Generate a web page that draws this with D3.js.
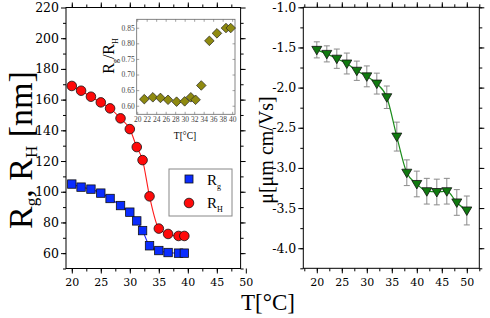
<!DOCTYPE html>
<html><head><meta charset="utf-8">
<script src="https://cdn.jsdelivr.net/npm/d3@7"></script>
<style>body{margin:0;background:#fff} svg{display:block}</style>
</head><body><svg id="c" width="490" height="318"></svg>
<script>
// ---- data ----
const tempR = [20, 21.6, 23.3, 25, 26.6, 28.4, 30, 31.2, 32.2, 33.4, 35, 36.6, 38.4, 39.4];
const rg = [105, 103, 101.7, 99.1, 95.6, 91, 86.7, 81, 74.7, 64.8, 61.7, 60.4, 60, 60];
const rh = [168.9, 165.8, 161.9, 158.2, 154.3, 147.8, 140.8, 129.1, 120.6, 97.0, 76.0, 72.5, 71.2, 71.2];
const tempRatio = [21.5, 23.3, 24.9, 26.5, 28.3, 30, 31.3, 32.3, 33.5, 35.2, 36.8, 38.7, 39.7];
const ratio = [0.621, 0.627, 0.625, 0.619, 0.613, 0.614, 0.627, 0.619, 0.665, 0.808, 0.832, 0.849, 0.849];
const tempMu = [20, 22, 24, 26, 28, 30, 32, 34, 36, 38, 40, 42, 44, 46, 48, 50];
const mu = [-1.53, -1.58, -1.64, -1.70, -1.79, -1.86, -1.95, -2.12, -2.61, -3.06, -3.20, -3.29, -3.30, -3.29, -3.43, -3.53];
const muErr = [0.10, 0.10, 0.12, 0.13, 0.12, 0.13, 0.13, 0.14, 0.18, 0.16, 0.16, 0.16, 0.16, 0.16, 0.16, 0.18];
const xTicksL = [20, 25, 30, 35, 40, 45, 50];
const yTicksL = [60, 80, 100, 120, 140, 160, 180, 200, 220];
const xTicksR = [20, 25, 30, 35, 40, 45, 50];
const yTicksR = [-4.0, -3.5, -3.0, -2.5, -2.0, -1.5, -1.0];
const xTicksIn = [20, 22, 24, 26, 28, 30, 32, 34, 36, 38, 40];
const yTicksIn = [0.60, 0.65, 0.70, 0.75, 0.80, 0.85];

const svg = d3.select('#c');
const SERIF = "'Liberation Serif', 'DejaVu Serif', serif";
const TICKF = "'DejaVu Serif', serif";

function styleAxis(g, size, fam) {
  g.select('.domain').remove();
  g.selectAll('line').attr('stroke', '#000').attr('stroke-width', 1);
  g.selectAll('text').attr('font-family', fam).attr('font-size', size).attr('fill', '#000');
}
function minor(lo, hi, step) { const a = []; for (let v = lo; v <= hi + 1e-9; v += step) a.push(+v.toFixed(4)); return a; }

function frameAxes(x, y, xt, yt, xm, ym, yfmt, xsize, ysize) {
  const [x0, x1] = x.range(), [y0, y1] = y.range();
  svg.append('g').attr('transform', `translate(0,${y0})`).call(d3.axisBottom(x).tickValues(xt).tickSize(5).tickPadding(5)).call(styleAxis, xsize, TICKF);
  svg.append('g').attr('transform', `translate(0,${y0})`).call(d3.axisBottom(x).tickValues(xm).tickSize(3).tickFormat('')).call(styleAxis, 0, TICKF);
  svg.append('g').attr('transform', `translate(0,${y1})`).call(d3.axisTop(x).tickValues(xt.filter(v => x(v) <= x1)).tickSize(5).tickFormat('')).call(styleAxis, 0, TICKF);
  svg.append('g').attr('transform', `translate(0,${y1})`).call(d3.axisTop(x).tickValues(xm).tickSize(3).tickFormat('')).call(styleAxis, 0, TICKF);
  svg.append('g').attr('transform', `translate(${x0},0)`).call(d3.axisLeft(y).tickValues(yt).tickSize(5).tickPadding(2).tickFormat(yfmt)).call(styleAxis, ysize, TICKF);
  svg.append('g').attr('transform', `translate(${x0},0)`).call(d3.axisLeft(y).tickValues(ym).tickSize(3).tickFormat('')).call(styleAxis, 0, TICKF);
  svg.append('g').attr('transform', `translate(${x1},0)`).call(d3.axisRight(y).tickValues(yt).tickSize(5).tickFormat('')).call(styleAxis, 0, TICKF);
  svg.append('g').attr('transform', `translate(${x1},0)`).call(d3.axisRight(y).tickValues(ym).tickSize(3).tickFormat('')).call(styleAxis, 0, TICKF);
  svg.append('rect').attr('x', x0).attr('y', y1).attr('width', x1 - x0).attr('height', y0 - y1)
    .attr('fill', 'none').attr('stroke', '#000').attr('stroke-width', 1);
}

// ---- left panel ----
const xL = d3.scaleLinear().domain([19, 49.1]).range([66, 240.6]);
const yL = d3.scaleLinear().domain([50, 220]).range([268.5, 7.5]);
frameAxes(xL, yL, xTicksL, yTicksL, minor(20, 47.5, 2.5), minor(50, 210, 10), d3.format('d'), 11, 12.5);

const lineL = (vals) => d3.line().x((d, i) => xL(tempR[i])).y(d => yL(d)).curve(d3.curveMonotoneX)(vals);
svg.append('path').attr('d', lineL(rg)).attr('fill', 'none').attr('stroke', '#1a1aff').attr('stroke-width', 1.1);
svg.append('path').attr('d', lineL(rh)).attr('fill', 'none').attr('stroke', '#ff1a1a').attr('stroke-width', 1.1);
svg.append('g').selectAll('rect').data(rg).join('rect')
  .attr('x', (d, i) => xL(tempR[i]) - 4.2).attr('y', d => yL(d) - 4.2).attr('width', 8.4).attr('height', 8.4)
  .attr('fill', '#0a2cff').attr('stroke', '#111').attr('stroke-width', 0.8);
svg.append('g').selectAll('circle').data(rh).join('circle')
  .attr('cx', (d, i) => xL(tempR[i])).attr('cy', d => yL(d)).attr('r', 4.8)
  .attr('fill', '#ff0a0a').attr('stroke', '#111').attr('stroke-width', 0.8);

// legend
const lg = svg.append('g');
lg.append('rect').attr('x', 169).attr('y', 169).attr('width', 63).attr('height', 47).attr('fill', '#fff').attr('stroke', '#888').attr('stroke-width', 1);
lg.append('rect').attr('x', 185).attr('y', 175).attr('width', 8).attr('height', 8).attr('fill', '#0a2cff').attr('stroke', '#111').attr('stroke-width', 0.8);
lg.append('circle').attr('cx', 189).attr('cy', 203).attr('r', 4.8).attr('fill', '#ff0a0a').attr('stroke', '#111').attr('stroke-width', 0.8);
const t1 = lg.append('text').attr('x', 207).attr('y', 185).attr('font-family', SERIF).attr('font-size', 15);
t1.append('tspan').text('R'); t1.append('tspan').attr('font-size', 8).attr('dy', 4).text('g');
const t2 = lg.append('text').attr('x', 207).attr('y', 208).attr('font-family', SERIF).attr('font-size', 15);
t2.append('tspan').text('R'); t2.append('tspan').attr('font-size', 8).attr('dy', 4).text('H');

// left y label
const yl = svg.append('text').attr('transform', 'translate(32,150) rotate(-90)').attr('text-anchor', 'middle')
  .attr('font-family', SERIF).attr('font-size', 34).attr('fill', '#000');
yl.append('tspan').text('R'); yl.append('tspan').attr('font-size', 17).attr('dy', 5).text('g');
yl.append('tspan').attr('dy', -5).text(', R'); yl.append('tspan').attr('font-size', 17).attr('dy', 5).text('H');
yl.append('tspan').attr('dy', -5).text(' [nm]');

// ---- inset ----
const xI = d3.scaleLinear().domain([19.9, 40.6]).range([136.7, 235]);
const yI = d3.scaleLinear().domain([0.5725, 0.877]).range([114.3, 19.3]);
svg.append('rect').attr('x', 136.7).attr('y', 19.3).attr('width', 235 - 136.7).attr('height', 114.3 - 19.3)
  .attr('fill', '#fff').attr('stroke', '#666').attr('stroke-width', 0.8);
function styleIn(g) { g.select('.domain').remove(); g.selectAll('line').attr('stroke', '#666').attr('stroke-width', 0.6);
  g.selectAll('text').attr('font-family', SERIF).attr('font-size', 7.5).attr('fill', '#444'); }
svg.append('g').attr('transform', 'translate(0,114.3)').call(d3.axisBottom(xI).tickValues(xTicksIn).tickSize(-2.5).tickPadding(2.5)).call(styleIn);
svg.append('g').attr('transform', 'translate(0,19.3)').call(d3.axisTop(xI).tickValues(xTicksIn).tickSize(-2.5).tickFormat('')).call(styleIn);
svg.append('g').attr('transform', 'translate(136.7,0)').call(d3.axisLeft(yI).tickValues(yTicksIn).tickSize(-2.5).tickPadding(2).tickFormat(d3.format('.2f'))).call(styleIn);
svg.append('g').attr('transform', 'translate(235,0)').call(d3.axisRight(yI).tickValues(yTicksIn).tickSize(-2.5).tickFormat('')).call(styleIn);
svg.append('g').selectAll('path').data(ratio).join('path')
  .attr('d', (d, i) => { const cx = xI(tempRatio[i]), cy = yI(d), r = 4.8; return `M${cx},${cy - r}L${cx + r},${cy}L${cx},${cy + r}L${cx - r},${cy}Z`; })
  .attr('fill', '#8f8a10').attr('stroke', '#222').attr('stroke-width', 0.7);
const il = svg.append('text').attr('transform', 'translate(114,56) rotate(-90)').attr('text-anchor', 'middle')
  .attr('font-family', SERIF).attr('font-size', 16).attr('fill', '#000');
il.append('tspan').text('R'); il.append('tspan').attr('font-size', 8).attr('dy', 4).text('g');
il.append('tspan').attr('dy', -4).text('/R'); il.append('tspan').attr('font-size', 8).attr('dy', 4).text('H');
svg.append('text').attr('x', 185).attr('y', 139).attr('text-anchor', 'middle').attr('font-family', SERIF).attr('font-size', 9.5).text('T[°C]');

// ---- right panel ----
const xR = d3.scaleLinear().domain([17.3, 52.5]).range([303.3, 479.3]);
const yR = d3.scaleLinear().domain([-4.25, -1.0]).range([268.3, 7.3]);
frameAxes(xR, yR, xTicksR, yTicksR, minor(17.5, 52.5, 2.5), minor(-4.25, -1.0, 0.25), d3.format('.1f'), 11, 12.5);
svg.selectAll('text').filter(function () { return /^−/.test(this.textContent); }).text(function () { return this.textContent.replace('−', '-'); });

const eb = svg.append('g').attr('stroke', '#8a8a8a').attr('stroke-width', 1);
mu.forEach((m, i) => {
  const x = xR(tempMu[i]), yt = yR(m + muErr[i]), yb = yR(m - muErr[i]);
  eb.append('line').attr('x1', x).attr('x2', x).attr('y1', yt).attr('y2', yb);
  eb.append('line').attr('x1', x - 3).attr('x2', x + 3).attr('y1', yt).attr('y2', yt);
  eb.append('line').attr('x1', x - 3).attr('x2', x + 3).attr('y1', yb).attr('y2', yb);
});
svg.append('path').attr('d', d3.line().x((d, i) => xR(tempMu[i])).y(d => yR(d)).curve(d3.curveMonotoneX)(mu))
  .attr('fill', 'none').attr('stroke', '#1a8c1a').attr('stroke-width', 1.2);
svg.append('g').selectAll('path').data(mu).join('path')
  .attr('d', (d, i) => { const cx = xR(tempMu[i]), cy = yR(d); return `M${cx - 5},${cy - 3.5}L${cx + 5},${cy - 3.5}L${cx},${cy + 5}Z`; })
  .attr('fill', '#107a10').attr('stroke', '#111').attr('stroke-width', 0.8);

svg.append('text').attr('transform', 'translate(273,150) rotate(-90)').attr('text-anchor', 'middle')
  .attr('font-family', SERIF).attr('font-size', 20).attr('fill', '#000').text('μ[μm cm/Vs]');

svg.append('text').attr('x', 268).attr('y', 310).attr('text-anchor', 'middle').attr('font-family', SERIF).attr('font-size', 23).text('T[°C]');
</script></body></html>
